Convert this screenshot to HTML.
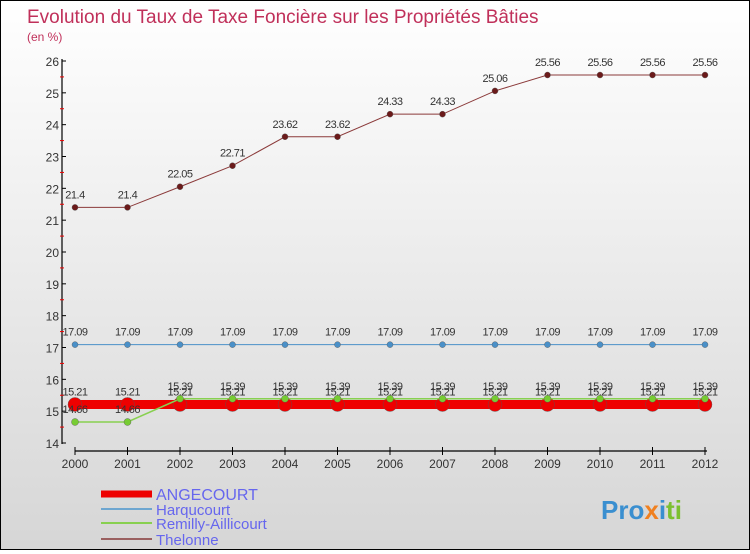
<!DOCTYPE html>
<html><head><meta charset="utf-8"><style>
body{margin:0}
#c{width:748px;height:548px;border:1px solid #000;background:linear-gradient(#fff,#d6d6d6);position:relative;font-family:"Liberation Sans",sans-serif}
text{font-family:"Liberation Sans",sans-serif}
</style></head><body>
<div id="c">
<svg id="s" width="748" height="548">
<text x="26" y="22" font-size="19" fill="#c0305a">Evolution du Taux de Taxe Foncière sur les Propriétés Bâties</text>
<text x="26" y="40" font-size="12" fill="#c0305a">(en %)</text>
<text x="600" y="518" font-size="26" font-weight="bold" fill="#3a8fd0">Pro<tspan fill="#f08020">x</tspan><tspan fill="#3a8fd0">i</tspan><tspan fill="#7cc030">ti</tspan></text>
</svg>
</div>
<script>
const years=[2000,2001,2002,2003,2004,2005,2006,2007,2008,2009,2010,2011,2012];
const angecourt=[15.21,15.21,15.21,15.21,15.21,15.21,15.21,15.21,15.21,15.21,15.21,15.21,15.21];
const harqucourt=[17.09,17.09,17.09,17.09,17.09,17.09,17.09,17.09,17.09,17.09,17.09,17.09,17.09];
const remilly=[14.66,14.66,15.39,15.39,15.39,15.39,15.39,15.39,15.39,15.39,15.39,15.39,15.39];
const thelonne=[21.4,21.4,22.05,22.71,23.62,23.62,24.33,24.33,25.06,25.56,25.56,25.56,25.56];
const yTicks=[14,15,16,17,18,19,20,21,22,23,24,25,26];
const names=["ANGECOURT","Harqucourt","Remilly-Aillicourt","Thelonne"];
const NS="http://www.w3.org/2000/svg";
const s=document.getElementById('s');
const X=i=>74+i*52.5;
const Y=v=>60+(26-v)*(382/12);
function mk(t,a){const e=document.createElementNS(NS,t);for(const k in a)e.setAttribute(k,a[k]);s.appendChild(e);return e;}
let e;
e=mk('line',{x1:61,y1:58,x2:61,y2:443,stroke:'#000','stroke-width':1.2});


e=mk('line',{x1:74,y1:450,x2:706,y2:450,stroke:'#000','stroke-width':1.2});


yTicks.forEach(v=>{
 mk('line',{x1:61,y1:Y(v),x2:65,y2:Y(v),stroke:'#000'});
 if(v<26)mk('line',{x1:59,y1:Y(v+0.5),x2:63,y2:Y(v+0.5),stroke:'#e00'});
 e=mk('text',{x:58,y:Y(v)+5,'font-size':12,'text-anchor':'end',fill:'#333'});
 e.textContent=v;
 
 
});
years.forEach((y,i)=>{
 mk('line',{x1:X(i),y1:446,x2:X(i),y2:454,stroke:'#000'});
 e=mk('text',{x:X(i),y:467,'font-size':12,'text-anchor':'middle',fill:'#333'});
 e.textContent=y;
 
 
});
function series(data,col,w,r,dot,name){
 e=mk('polyline',{points:data.map((v,i)=>X(i)+','+Y(v)).join(' '),fill:'none',stroke:col,'stroke-width':w});
 
 
 data.forEach((v,i)=>{
  e=mk('circle',{cx:X(i),cy:Y(v),r:r,fill:dot,stroke:'#555','stroke-width':0.4});
  
  
  e=mk('text',{x:X(i),y:Y(v)-9,'font-size':11,'text-anchor':'middle',fill:'#333','letter-spacing':'-0.5'});
  e.textContent=v;
  
  
 });
}
series(thelonne,'#8b3a3a',1,3,'#6b1a1a','thelonne');
series(harqucourt,'#4a90c8',1,3,'#4a90c8','harqucourt');
series(angecourt,'#e00',9,7,'#e00','angecourt');
series(remilly,'#88d050',1.5,3.5,'#77cc33','remilly');
const lc=['#e00','#6ea6d0','#88d050','#9a6060'],lw=[7,2,2,2],ly=[493,508,522,538];
names.forEach((n,i)=>{
 e=mk('line',{x1:100,y1:ly[i],x2:151,y2:ly[i],stroke:lc[i],'stroke-width':lw[i]});
 
 
 e=mk('text',{x:155,y:ly[i]+6,'font-size':i==0?16:15,fill:'#6666ee'});
 e.textContent=n;
 
 
});
</script>
</body></html>
